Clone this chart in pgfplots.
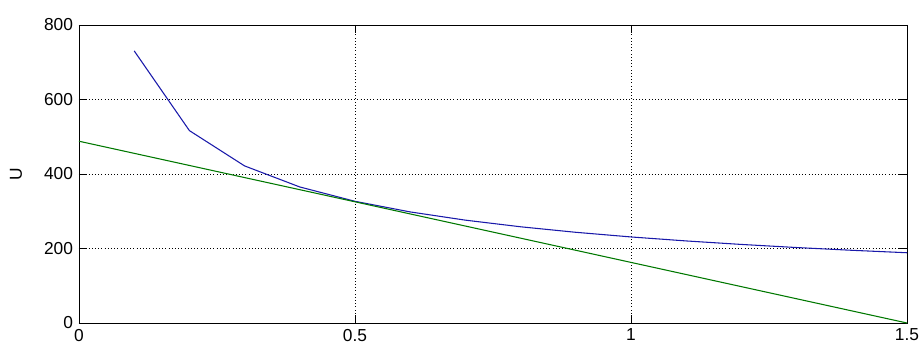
\documentclass[border=0pt]{standalone}
\usepackage{fontspec}
\setmainfont{Liberation Sans}
\usepackage{pgfplots}
\pgfplotsset{compat=1.18}
\definecolor{mblue}{RGB}{25,25,170}
\definecolor{mgreen}{RGB}{0,120,0}
\begin{document}
\begin{tikzpicture}[x=1pt,y=1pt]
\begin{axis}[
  at={(0,0)}, anchor=south west,
  scale only axis,
  width=621pt, height=223.5pt,
  xmin=0, xmax=1.5, ymin=0, ymax=800,
  xtick={0,0.5,1,1.5},
  xticklabels={0,0.5,1,1.5},
  ytick={0,200,400,600,800},
  tick align=inside,
  major tick length=6pt,
  tick style={black, line width=0.6pt},
  axis line style={black, line width=0.6pt},
  xmajorgrids, ymajorgrids,
  grid style={black, dotted, line width=0.6pt},
  tick label style={font=\fontsize{13}{15}\selectfont},
  /pgf/number format/assume math mode=true,
  xticklabel style={yshift=-1pt},
  yticklabel style={xshift=-1pt},
  ylabel={U},
  ylabel style={font=\fontsize{13}{15}\selectfont, at={(axis description cs:-0.0762,0.5)}, anchor=center},
  clip=false,
]
\addplot[mblue, line width=0.8pt] coordinates {
(0.1,730.5) (0.2,516.5) (0.3,421.7) (0.4,365.2) (0.5,326.7) (0.6,298.2)
(0.7,276.1) (0.8,258.3) (0.9,243.5) (1.0,231.0) (1.1,220.3) (1.2,210.9)
(1.3,202.6) (1.4,195.2) (1.5,188.6)};
\addplot[mgreen, line width=0.8pt] coordinates {(0,488) (1.5,0)};
\end{axis}
\pgfresetboundingbox
\path[use as bounding box] (-59.25pt,-20.25pt) rectangle (632.25pt,242.25pt);
\end{tikzpicture}
\end{document}
